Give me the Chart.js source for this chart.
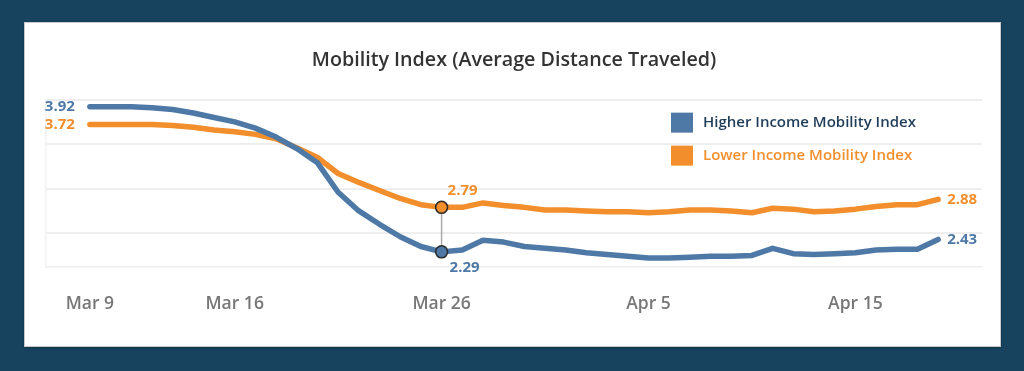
<!DOCTYPE html>
<html>
<head>
<meta charset="utf-8">
<script src="https://cdn.jsdelivr.net/npm/chart.js@4/dist/chart.umd.min.js"></script>
<style>
  html, body { margin: 0; padding: 0; width: 1024px; height: 371px; overflow: hidden; background: #17435f; }
  #card { position: absolute; left: 24px; top: 22px; width: 975px; height: 323px; background: #fff; border: 1px solid #c9c9c9; box-shadow: 0 1px 2px rgba(0,0,0,0.25); }
  #wrap { position: absolute; left: 0; top: 0; width: 1024px; height: 371px; }
</style>
</head>
<body>
<div id="card"></div>
<div id="wrap"><canvas id="c" width="1024" height="371"></canvas></div>
<script>
const dates = ['Mar 9','Mar 10','Mar 11','Mar 12','Mar 13','Mar 14','Mar 15','Mar 16','Mar 17','Mar 18',
  'Mar 19','Mar 20','Mar 21','Mar 22','Mar 23','Mar 24','Mar 25','Mar 26','Mar 27','Mar 28',
  'Mar 29','Mar 30','Mar 31','Apr 1','Apr 2','Apr 3','Apr 4','Apr 5','Apr 6','Apr 7',
  'Apr 8','Apr 9','Apr 10','Apr 11','Apr 12','Apr 13','Apr 14','Apr 15','Apr 16','Apr 17',
  'Apr 18','Apr 19'];
const higherIncome = [3.92,3.92,3.92,3.91,3.89,3.85,3.80,3.75,3.68,3.58,
  3.45,3.29,2.96,2.75,2.60,2.46,2.35,2.29,2.31,2.42,
  2.40,2.35,2.33,2.31,2.28,2.26,2.24,2.22,2.22,2.23,
  2.24,2.24,2.25,2.33,2.27,2.26,2.27,2.28,2.31,2.32,
  2.32,2.43];
const lowerIncome = [3.72,3.72,3.72,3.72,3.71,3.69,3.66,3.64,3.61,3.56,
  3.46,3.35,3.17,3.07,2.98,2.89,2.82,2.79,2.79,2.84,
  2.81,2.79,2.76,2.76,2.75,2.74,2.74,2.73,2.74,2.76,
  2.76,2.75,2.73,2.78,2.77,2.74,2.75,2.77,2.80,2.82,
  2.82,2.88];
const tickLabels = ['Mar 9','Mar 16','Mar 26','Apr 5','Apr 15'];
const gridValues = [2.5, 3.0, 3.5, 4.0];
const highlightDate = 'Mar 26';
const seriesNames = ['Higher Income Mobility Index', 'Lower Income Mobility Index'];
const chartTitle = 'Mobility Index (Average Distance Traveled)';

const BLUE = '#4e79a7';
const ORANGE = '#f28e2b';
const FONT = "'Open Sans', 'Noto Sans', sans-serif";

const toPoints = arr => arr.map((v, i) => ({ x: i, y: v }));
const tickIdx = tickLabels.map(l => dates.indexOf(l));
const hiIdx = dates.indexOf(highlightDate);

const labelsPlugin = {
  id: 'labels',
  afterDatasetsDraw(chart) {
    const ctx = chart.ctx;
    ctx.save();
    ctx.font = "bold 15px " + FONT;
    ctx.textBaseline = 'middle';
    chart.data.datasets.forEach((ds, di) => {
      const meta = chart.getDatasetMeta(di);
      const first = meta.data[0], last = meta.data[meta.data.length - 1];
      ctx.fillStyle = ds.borderColor;
      ctx.textAlign = 'right';
      ctx.fillText(ds.data[0].y.toFixed(2), first.x - 15, first.y);
      ctx.textAlign = 'left';
      ctx.fillText(ds.data[ds.data.length - 1].y.toFixed(2), last.x + 9, last.y);
    });
    // highlight annotation
    const pHi = chart.getDatasetMeta(0).data[hiIdx];
    const pLo = chart.getDatasetMeta(1).data[hiIdx];
    ctx.strokeStyle = '#aaaaaa';
    ctx.lineWidth = 1.5;
    ctx.beginPath();
    ctx.moveTo(pLo.x, pLo.y);
    ctx.lineTo(pHi.x, pHi.y);
    ctx.stroke();
    [[pHi, BLUE], [pLo, ORANGE]].forEach(([p, col]) => {
      ctx.beginPath();
      ctx.arc(p.x, p.y, 6, 0, Math.PI * 2);
      ctx.fillStyle = col;
      ctx.fill();
      ctx.strokeStyle = '#2b2b2b';
      ctx.lineWidth = 1.5;
      ctx.stroke();
    });
    ctx.textAlign = 'left';
    ctx.fillStyle = ORANGE;
    ctx.fillText(lowerIncome[hiIdx].toFixed(2), pLo.x + 6, pLo.y - 17);
    ctx.fillStyle = BLUE;
    ctx.fillText(higherIncome[hiIdx].toFixed(2), pHi.x + 8, pHi.y + 16);
    // legend
    const ca = chart.chartArea;
    const lx = ca.right - 311;
    ctx.font = "600 15px " + FONT;
    chart.data.datasets.forEach((ds, di) => {
      const top = ca.top + 13 + di * 33;
      ctx.fillStyle = ds.borderColor;
      ctx.fillRect(lx, top, 22, 20);
      ctx.fillStyle = di === 0 ? '#1f3d5a' : ORANGE;
      ctx.fillText(ds.label, lx + 32, top + 10);
    });
    ctx.restore();
  }
};

new Chart(document.getElementById('c'), {
  type: 'line',
  data: {
    datasets: [
      { label: seriesNames[0], data: toPoints(higherIncome), borderColor: BLUE, backgroundColor: BLUE,
        borderWidth: 5.5, pointRadius: 0, tension: 0, borderCapStyle: 'round', borderJoinStyle: 'round' },
      { label: seriesNames[1], data: toPoints(lowerIncome), borderColor: ORANGE, backgroundColor: ORANGE,
        borderWidth: 5.5, pointRadius: 0, tension: 0, borderCapStyle: 'round', borderJoinStyle: 'round' }
    ]
  },
  options: {
    responsive: false,
    animation: false,
    layout: { padding: { left: 46, right: 42, top: 30, bottom: 29 } },
    plugins: {
      legend: { display: false },
      tooltip: { enabled: false },
      title: {
        display: true, text: chartTitle, color: '#333333',
        font: { family: FONT, size: 19.7, weight: '600' },
        padding: { top: 19, bottom: 27 }
      }
    },
    scales: {
      x: {
        type: 'linear', min: -2.12, max: dates.length - 1 + 2.12,
        grid: { display: false, drawTicks: false },
        border: { display: true, color: '#eeeeee', width: 1.5 },
        afterBuildTicks: s => { s.ticks = tickIdx.map(v => ({ value: v })); },
        ticks: {
          autoSkip: false, maxRotation: 0, padding: 27, color: '#777777',
          font: { family: FONT, size: 17.5, weight: '600' },
          callback: v => dates[v]
        }
      },
      y: {
        min: 2.12, max: 4.0,
        afterBuildTicks: s => { s.ticks = gridValues.map(v => ({ value: v })); },
        ticks: { display: false },
        grid: { color: '#eeeeee', lineWidth: 2, drawTicks: false },
        border: { display: true, color: '#f2f2f2', width: 1.5 }
      }
    }
  },
  plugins: [labelsPlugin]
});
</script>
</body>
</html>
